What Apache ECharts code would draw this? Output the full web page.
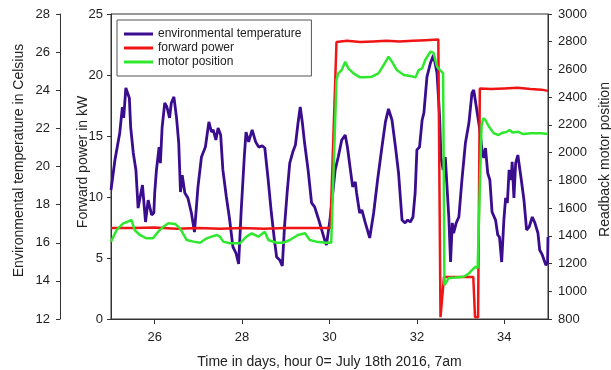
<!DOCTYPE html>
<html>
<head>
<meta charset="utf-8">
<script src="https://cdn.jsdelivr.net/npm/echarts@6/dist/echarts.min.js"></script>
<style>
  html, body { margin: 0; padding: 0; background: #fff; }
  #chart { width: 611px; height: 370px; }
</style>
</head>
<body>
<div id="chart"></div>
<script>
// --- data ---
const dayTicks = [26, 28, 30, 32, 34];

const tempDays = [25.00, 25.09, 25.20, 25.26, 25.29, 25.34, 25.42, 25.45, 25.51, 25.57, 25.62, 25.72, 25.79, 25.85, 25.93, 25.98,
  26.00, 26.04, 26.10, 26.13, 26.17, 26.23, 26.28, 26.34, 26.38, 26.44, 26.50, 26.55, 26.59, 26.63, 26.69, 26.76, 26.84, 26.91, 26.99,
  27.07, 27.16, 27.24, 27.30, 27.34, 27.40, 27.45, 27.51, 27.56, 27.64, 27.71, 27.79, 27.86, 27.92, 27.98,
  28.05, 28.09, 28.15, 28.23, 28.31, 28.38, 28.46, 28.52, 28.59, 28.67, 28.74, 28.79, 28.86, 28.92, 28.97,
  29.03, 29.09, 29.16, 29.22, 29.28, 29.33, 29.38, 29.43, 29.51, 29.59, 29.66, 29.74, 29.81, 29.89, 29.93, 30.01,
  30.09, 30.13, 30.20, 30.28, 30.36, 30.41, 30.47, 30.53, 30.59, 30.62, 30.69, 30.74, 30.82, 30.92,
  31.01, 31.10, 31.20, 31.28, 31.35, 31.43, 31.51, 31.58, 31.66, 31.73, 31.79, 31.85, 31.91, 31.96,
  32.00, 32.06, 32.12, 32.16, 32.23, 32.31, 32.38, 32.46, 32.52, 32.55, 32.60, 32.65, 32.73, 32.77, 32.81, 32.84, 32.90, 32.96,
  33.03, 33.11, 33.19, 33.26, 33.30, 33.36, 33.44, 33.49, 33.53, 33.57, 33.62, 33.67, 33.72, 33.80, 33.85, 33.89, 33.94, 33.99,
  34.03, 34.07, 34.11, 34.16, 34.18, 34.22, 34.26, 34.31, 34.38, 34.45, 34.51, 34.57, 34.64, 34.70, 34.77, 34.81, 34.87, 34.95, 34.99, 35.00];
const tempValues = [18.77, 20.34, 21.76, 23.12, 22.55, 24.12, 23.59, 22.07, 20.71, 19.82, 17.82, 19.03, 17.09, 18.24, 17.46, 17.56,
  18.61, 19.82, 21.02, 20.18, 22.07, 23.33, 23.12, 22.55, 23.33, 23.65, 22.55, 21.23, 18.66, 19.55, 18.61, 18.35, 17.56, 16.56, 18.93,
  20.50, 21.02, 22.34, 21.81, 21.92, 21.39, 22.02, 21.65, 19.82, 18.40, 17.30, 15.78, 15.46, 14.89, 17.72,
  20.50, 21.81, 21.29, 21.92, 21.29, 21.02, 21.08, 20.97, 19.45, 17.56, 16.14, 15.25, 15.10, 14.78, 16.83,
  18.61, 20.18, 20.76, 21.13, 22.28, 23.12, 22.28, 21.23, 19.82, 18.09, 17.88, 17.30, 16.77, 16.14, 15.88, 17.19,
  18.93, 19.82, 20.50, 21.39, 21.65, 21.02, 19.97, 18.93, 19.19, 18.61, 17.56, 17.72, 17.04, 16.25,
  17.56, 19.29, 21.02, 22.34, 23.02, 22.44, 21.02, 19.66, 17.19, 17.04, 17.19, 17.09, 17.35, 18.61,
  20.87, 21.02, 22.44, 22.81, 24.70, 25.43, 25.85, 24.91, 22.60, 20.50, 19.82, 20.50, 17.35, 14.99, 17.04, 16.51, 17.04, 17.35,
  19.29, 21.23, 22.28, 23.86, 24.01, 23.12, 21.92, 20.87, 20.45, 20.97, 19.66, 19.29, 17.61, 17.19, 16.41, 16.30, 14.99, 17.19,
  18.35, 18.09, 19.82, 19.29, 20.24, 18.35, 20.18, 20.60, 19.45, 18.24, 16.67, 16.83, 17.35, 17.04, 16.51, 15.62, 15.36, 14.83, 14.94, 16.30];

const powerDays = [25.00, 25.5, 26.0, 26.5, 27.0, 27.5, 28.0, 28.5, 29.0, 29.5, 30.02, 30.16, 30.4, 30.7, 31.0, 31.3, 31.6, 31.9, 32.2, 32.49,
  32.54, 32.58, 32.62, 32.9, 33.29, 33.33, 33.40, 33.44, 33.7, 34.0, 34.3, 34.6, 34.85, 35.00];
const powerValues = [7.45, 7.45, 7.5, 7.4, 7.45, 7.4, 7.45, 7.4, 7.45, 7.45, 7.45, 22.7, 22.8, 22.7, 22.75, 22.8, 22.75, 22.8, 22.85, 22.9,
  0.15, 0.15, 3.45, 3.45, 3.45, 0.15, 0.15, 18.9, 18.85, 18.9, 18.95, 18.85, 18.8, 18.7];

const motorDays = [25.00, 25.13, 25.28, 25.37, 25.47, 25.54, 25.66, 25.81, 25.96, 26.08, 26.20, 26.31, 26.47, 26.58, 26.73, 26.89,
  27.04, 27.19, 27.30, 27.42, 27.49, 27.57, 27.72, 27.95, 28.10, 28.22, 28.37, 28.52, 28.60, 28.79, 28.94,
  29.09, 29.28, 29.44, 29.55, 29.70, 29.93, 30.04, 30.16, 30.20, 30.28, 30.36, 30.43, 30.55, 30.70, 30.82, 30.97,
  31.12, 31.24, 31.35, 31.43, 31.54, 31.70, 31.85, 31.97, 32.04, 32.12, 32.19, 32.31, 32.38, 32.46, 32.53, 32.60,
  32.63, 32.73, 32.88, 33.07, 33.18, 33.26, 33.34, 33.39, 33.48, 33.52, 33.57, 33.65, 33.76, 33.87, 33.96,
  34.05, 34.12, 34.19, 34.31, 34.43, 34.61, 34.84, 35.00];
const motorValues = [1358, 1442, 1490, 1500, 1514, 1442, 1406, 1382, 1382, 1430, 1466, 1490, 1485, 1454, 1370, 1358,
  1350, 1382, 1394, 1406, 1394, 1358, 1346, 1346, 1394, 1418, 1394, 1430, 1370, 1350, 1350,
  1370, 1406, 1418, 1370, 1358, 1350, 1350, 2524, 2572, 2596, 2656, 2608, 2572, 2543, 2543, 2548,
  2572, 2632, 2692, 2656, 2596, 2560, 2553, 2543, 2596, 2608, 2668, 2728, 2721, 2620, 2596, 2572,
  1045, 1096, 1099, 1105, 1125, 1153, 1177, 1166, 2199, 2248, 2235, 2187, 2139, 2127, 2144,
  2149, 2163, 2145, 2151, 2134, 2139, 2139, 2134];

function pairs(xs, ys) {
  return xs.map(function (x, i) { return [x, ys[i]]; });
}

const font = "Liberation Sans";
const ink = "#222";
const lineIcon = "path://M0,0H29V3H0Z";

const chart = echarts.init(document.getElementById("chart"), null, { renderer: "canvas" });

// padding on the left side of the rotated name nudges it up along the axis
function yAxisBase(extra, labelMargin, namePad) {
  return Object.assign({
    type: "value",
    nameLocation: "middle",
    nameRotate: 90,
    nameMoveOverlap: false,
    nameTextStyle: { fontFamily: font, fontSize: 14, color: ink, padding: [0, 0, 0, namePad] },
    axisLine: { show: true, lineStyle: { color: "#333", width: 1 } },
    axisTick: { show: true, inside: false, length: 4, lineStyle: { color: "#333" } },
    axisLabel: {
      fontFamily: font, fontSize: 13, color: ink, margin: labelMargin,
      formatter: function (v) { return String(v); },
    },
    splitLine: { show: false },
  }, extra);
}

const option = {
  animation: false,
  backgroundColor: "#fff",
  grid: {
    left: 111, right: 63, top: 14, bottom: 51,
    outerBoundsMode: "none",
    containLabel: false,
    show: true, borderColor: "#333", borderWidth: 1, backgroundColor: "transparent",
  },
  legend: {
    orient: "vertical",
    left: 117, top: 20,
    padding: [8, 10, 8, 7],
    itemGap: 2,
    itemWidth: 29,
    itemHeight: 13,
    borderColor: "#555",
    borderWidth: 1,
    backgroundColor: "#fff",
    textStyle: { fontFamily: font, fontSize: 12, color: ink },
    data: [
      { name: "environmental temperature", icon: lineIcon },
      { name: "forward power", icon: lineIcon },
      { name: "motor position", icon: lineIcon },
    ],
  },
  xAxis: {
    type: "value",
    min: 25, max: 35,
    name: "Time in days, hour 0= July 18th 2016, 7am",
    nameLocation: "middle",
    nameGap: 36,
    nameMoveOverlap: false,
    nameTextStyle: { fontFamily: font, fontSize: 14, color: ink },
    axisLine: { show: true, onZero: false, lineStyle: { color: "#333", width: 1 } },
    axisTick: { show: true, length: 5, customValues: dayTicks, lineStyle: { color: "#333" } },
    axisLabel: { fontFamily: font, fontSize: 13, color: ink, margin: 12, customValues: dayTicks },
    splitLine: { show: false },
  },
  yAxis: [
    yAxisBase({ position: "left", min: 0, max: 25, interval: 5, name: "Forward power in kW", nameGap: 21 }, 8, 9),
    yAxisBase({ position: "left", offset: 51, min: 12, max: 28, interval: 2,
      name: "Environmental temperature in Celsius", nameGap: 34 }, 10, 12),
    yAxisBase({ position: "right", min: 800, max: 3000, interval: 200, name: "Readback motor position", nameGap: 50 }, 10, 14),
  ],
  series: [
    {
      name: "environmental temperature",
      type: "line",
      yAxisIndex: 1,
      data: pairs(tempDays, tempValues),
      symbol: "none",
      lineStyle: { color: "#3a0c8e", width: 2.8 },
      itemStyle: { color: "#3a0c8e" },
    },
    {
      name: "forward power",
      type: "line",
      yAxisIndex: 0,
      data: pairs(powerDays, powerValues),
      symbol: "none",
      lineStyle: { color: "#f01414", width: 2.5 },
      itemStyle: { color: "#f01414" },
    },
    {
      name: "motor position",
      type: "line",
      yAxisIndex: 2,
      data: pairs(motorDays, motorValues),
      symbol: "none",
      lineStyle: { color: "#2ee82e", width: 2.5 },
      itemStyle: { color: "#2ee82e" },
    },
  ],
};

chart.setOption(option);
</script>
</body>
</html>
